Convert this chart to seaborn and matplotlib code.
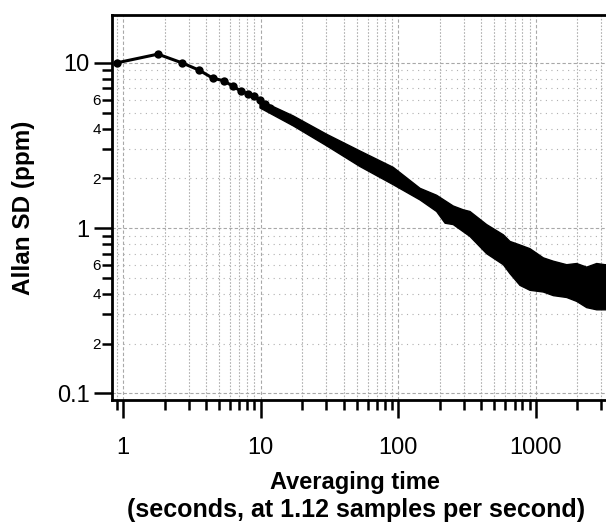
import numpy as np
import pandas as pd
import matplotlib
matplotlib.use("Agg")
import matplotlib.pyplot as plt
from matplotlib.ticker import FixedLocator, FixedFormatter, NullFormatter
import seaborn as sns

# ---- data ----
# individually resolved points (averaging time in s, Allan SD in ppm)
tau_points = [0.893, 1.786, 2.679, 3.571, 4.464, 5.357, 6.25, 7.143, 8.036, 8.929,
              9.82, 10.71, 11.7, 17.2, 30.1, 52.6, 92.0, 144.0]
adev_points = [10.0, 11.3, 10.0, 9.03, 8.09, 7.80, 7.24, 6.76, 6.50, 6.28,
               5.95, 5.65, 5.37, 4.48, 3.43, 2.63, 2.07, 1.61]

# upper and lower envelope of the dense (noisy) part of the curve
band_upper_tau = [9.87, 17.2, 30.1, 52.6, 92.0, 144.0, 190.0, 251.0, 297.0, 332.0,
                  439.0, 581.0, 649.0, 767.0, 907.0, 1135.0, 1341.0, 1678.0,
                  1983.0, 2344.0, 2773.0, 3186.0, 3400.0]
band_upper_val = [5.92, 4.78, 3.70, 2.93, 2.33, 1.74, 1.58, 1.36, 1.29, 1.26,
                  1.05, 0.91, 0.83, 0.79, 0.75, 0.66, 0.63, 0.60,
                  0.61, 0.58, 0.61, 0.60, 0.60]
band_lower_tau = [9.87, 17.2, 30.1, 52.6, 92.0, 144.0, 190.0, 219.0, 251.0, 332.0,
                  439.0, 581.0, 649.0, 767.0, 907.0, 1135.0, 1341.0, 1678.0,
                  1983.0, 2344.0, 2773.0, 3186.0, 3400.0]
band_lower_val = [5.34, 4.16, 3.15, 2.36, 1.83, 1.48, 1.26, 1.07, 1.05, 0.89,
                  0.70, 0.60, 0.53, 0.45, 0.42, 0.41, 0.39, 0.38,
                  0.36, 0.33, 0.32, 0.32, 0.32]

x_major = [1, 10, 100, 1000]
x_major_labels = ["1", "10", "100", "1000"]
y_major = [0.1, 1, 10]
y_major_labels = ["0.1", "1", "10"]
y_minor_labeled = [0.2, 0.4, 0.6, 2, 4, 6]
y_minor_label_text = ["2", "4", "6", "2", "4", "6"]

xlabel_line1 = "Averaging time"
xlabel_line2 = "(seconds, at 1.12 samples per second)"
ylabel = "Allan SD (ppm)"

# ---- style ----
sns.set_style("white")
plt.rcParams["font.family"] = ["Liberation Sans", "DejaVu Sans"]
plt.rcParams["text.color"] = "black"
plt.rcParams["axes.labelcolor"] = "black"

W, H = 606, 525
fig = plt.figure(figsize=(W / 100, H / 100), dpi=100)
ax = fig.add_axes([112 / W, 1 - 400 / H, 1 - 112 / W, (400 - 15) / H])

df = pd.DataFrame({"tau": tau_points, "adev": adev_points})

# dense band
poly_x = list(band_upper_tau) + list(band_lower_tau[::-1])
poly_y = list(band_upper_val) + list(band_lower_val[::-1])
ax.fill(poly_x, poly_y, color="black", lw=1.0, ec="black", joinstyle="round", zorder=3)

sns.lineplot(data=df, x="tau", y="adev", ax=ax, color="black", lw=2.2,
             marker="o", markersize=6, markeredgewidth=0, sort=False,
             estimator=None, zorder=4)

ax.set_xscale("log")
ax.set_yscale("log")
ax.set_xlim(0.828, 3239)
ax.set_ylim(0.091, 19.5)

# ticks
xminor = [m * 10.0 ** e for e in range(-1, 4) for m in range(2, 10)]
xminor = [v for v in xminor if 0.828 <= v <= 3239]
ax.xaxis.set_major_locator(FixedLocator(x_major))
ax.xaxis.set_major_formatter(FixedFormatter(x_major_labels))
ax.xaxis.set_minor_locator(FixedLocator(xminor))
ax.xaxis.set_minor_formatter(NullFormatter())

yminor = [m * 10.0 ** e for e in range(-1, 2) for m in range(2, 10)]
yminor = [v for v in yminor if 0.091 <= v <= 19.5]
ax.yaxis.set_major_locator(FixedLocator(y_major))
ax.yaxis.set_major_formatter(FixedFormatter(y_major_labels))
ax.yaxis.set_minor_locator(FixedLocator(yminor))
lab = {round(v, 3): t for v, t in zip(y_minor_labeled, y_minor_label_text)}
ax.yaxis.set_minor_formatter(FixedFormatter([lab.get(round(v, 3), "") for v in yminor]))

ax.tick_params(axis="both", which="major", direction="out", length=13, width=1.8,
               color="black", labelsize=17, labelcolor="black")
ax.tick_params(axis="both", which="minor", direction="out", length=7, width=1.8,
               color="black", labelcolor="black")
ax.tick_params(axis="x", which="major", pad=14)
ax.tick_params(axis="y", which="major", pad=3)
ax.tick_params(axis="y", which="minor", pad=1, labelsize=11)
ax.tick_params(top=False, right=False, bottom=True, left=True, which="both")

# grid
ax.grid(True, which="major", axis="both", color="#a8a8a8", lw=0.8, ls=(0, (3, 2)))
ax.grid(True, which="minor", axis="x", color="#b0b0b0", lw=0.8, ls=(0, (1.5, 1.5)))
ax.grid(True, which="minor", axis="y", color="#b0b0b0", lw=0.8, ls=(0, (1, 4)))
ax.set_axisbelow(True)

for side in ["left", "bottom", "top"]:
    ax.spines[side].set_visible(True)
    ax.spines[side].set_color("black")
    ax.spines[side].set_linewidth(2.0)
ax.spines["right"].set_visible(False)

ax.set_xlabel("")
ax.set_ylabel(ylabel, fontsize=17.5, fontweight="bold", color="black")
ax.yaxis.set_label_coords(-(112 - 35) / 494, 0.5)

fig.text(355 / W, 1 - 489 / H, xlabel_line1, ha="center", va="baseline",
         fontsize=17, fontweight="bold", color="black")
fig.text(356 / W, 1 - 517 / H, xlabel_line2, ha="center", va="baseline",
         fontsize=18, fontweight="bold", color="black")

fig.savefig("out.png", dpi=100)
